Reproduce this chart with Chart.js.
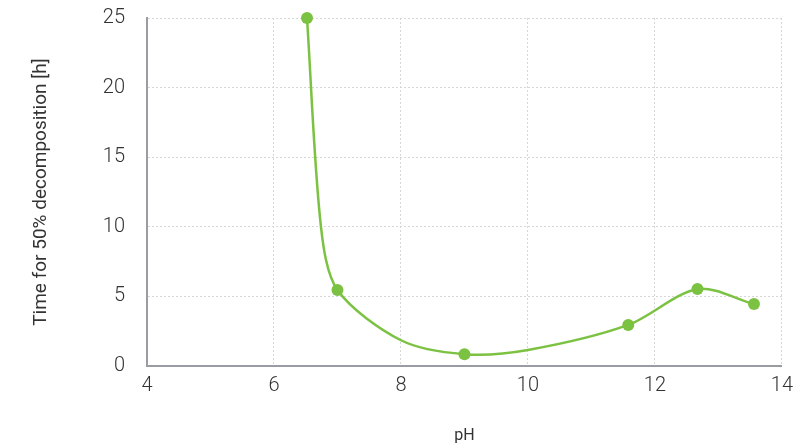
<!DOCTYPE html>
<html>
<head>
<meta charset="utf-8">
<script src="https://cdn.jsdelivr.net/npm/chart.js@4"></script>
<style>
  body { margin: 0; background: #fff; }
</style>
</head>
<body>
<canvas id="phChart" width="801" height="446"></canvas>
<script>
"use strict";

// measured points (shown with markers)
const markerPH = [6.52, 7.0, 9.0, 11.58, 12.67, 13.56];
const markerTime = [25, 5.46, 0.85, 2.95, 5.53, 4.45];

// points
const curvePH = [6.52, 6.74, 7.0, 8.0, 9.0, 10.0, 11.58, 12.67, 13.56];
const curveTime = [25, 10, 5.46, 1.85, 0.85, 1.15, 2.95, 5.53, 4.45];

const xTicks = [4, 6, 8, 10, 12, 14];
const yTicks = [0, 5, 10, 15, 20, 25];

const green = "#7cc242";
const textColor = "#333333";
const fontName = "Roboto";

const ctx = document.getElementById("phChart");
new Chart(ctx, {
    type: "scatter",
    data: {
        datasets: [{
            data: curvePH.map((x, i) => ({ x: x, y: curveTime[i] })),
            showLine: true,
            borderColor: green,
            borderWidth: 2.5,
            pointRadius: 0,
            tension: 0.3,
            fill: false,
            clip: false
        }, {
            data: markerPH.map((x, i) => ({ x: x, y: markerTime[i] })),
            showLine: false,
            backgroundColor: green,
            borderColor: green,
            pointRadius: 6,
            pointBorderWidth: 0,
            clip: false
        }]
    },
    options: {
        responsive: false,
        animation: false,
        layout: { padding: { top: 18, right: 14, left: 0, bottom: 0 } },
        plugins: { legend: { display: false }, tooltip: { enabled: false } },
        scales: {
            x: {
                type: "linear",
                min: 4,
                max: 14,
                afterBuildTicks: scale => { scale.ticks = xTicks.map(v => ({ value: v })); },
                afterFit: scale => { scale.height = 80; },
                ticks: { color: textColor, font: { family: fontName, size: 20, weight: 300 }, padding: 8 },
                grid: { color: "#d6d6d6", drawTicks: false },
                border: { display: true, color: "#9a9ca3", width: 2, dash: [2, 2] },
                title: {
                    display: true,
                    text: "pH",
                    color: textColor,
                    font: { family: fontName, size: 16 },
                    padding: { top: 16, bottom: 0 }
                }
            },
            y: {
                type: "linear",
                min: 0,
                max: 25,
                afterBuildTicks: scale => { scale.ticks = yTicks.map(v => ({ value: v })); },
                afterFit: scale => { scale.width = 147; },
                ticks: { color: textColor, font: { family: fontName, size: 20, weight: 300 }, padding: 4 },
                grid: { color: "#d6d6d6", drawTicks: true, tickLength: 18, tickColor: "rgba(0,0,0,0)" },
                border: { display: true, color: "#9a9ca3", width: 2, dash: [2, 2] },
                title: {
                    display: true,
                    text: "Time for 50% decomposition [h]",
                    color: textColor,
                    font: { family: fontName, size: 19 },
                    padding: { top: 30, bottom: 0 }
                }
            }
        }
    }
});
</script>
</body>
</html>
